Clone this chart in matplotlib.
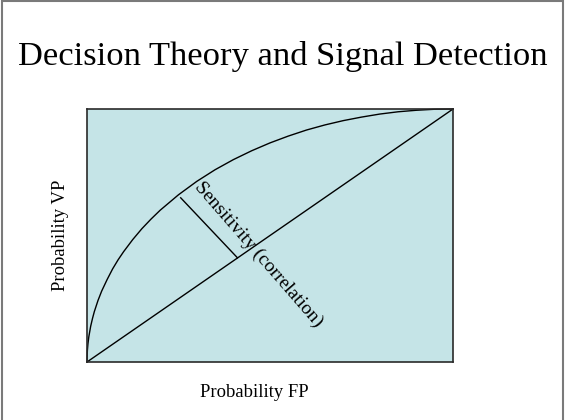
import matplotlib
matplotlib.use('Agg')
import matplotlib.pyplot as plt
from matplotlib.patches import Rectangle

# probability of false positives vs. probability of true positives
roc_fp = [0.0, 0.001, 0.0025, 0.005, 0.01, 0.015, 0.02, 0.03, 0.04, 0.055, 0.07, 0.085, 0.1,
          0.125, 0.15, 0.175, 0.2, 0.25, 0.3, 0.35, 0.4, 0.45, 0.5, 0.55, 0.6, 0.65, 0.7,
          0.75, 0.8, 0.85, 0.9, 0.95, 1.0]
roc_vp = [0.0, 0.045, 0.071, 0.10, 0.141, 0.172, 0.199, 0.243, 0.28, 0.326, 0.368, 0.404, 0.436,
          0.484, 0.527, 0.565, 0.60, 0.661, 0.714, 0.760, 0.80, 0.835, 0.866, 0.893, 0.917, 0.937, 0.954,
          0.968, 0.98, 0.989, 0.995, 0.999, 1.0]

# chance line
chance_fp = [0.0, 1.0]
chance_vp = [0.0, 1.0]

# sensitivity marker (curve -> diagonal)
sens_fp = [0.256, 0.411]
sens_vp = [0.649, 0.412]

title = 'Decision Theory and Signal Detection'
xlabel = 'Probability FP'
ylabel = 'Probability VP'
note = 'Sensitivity (correlation)'

W, H = 565, 420
fig = plt.figure(figsize=(W / 100, H / 100), dpi=100)
fig.patch.set_facecolor('white')
serif = ['Liberation Serif', 'DejaVu Serif']

# slide border
fig.patches.append(Rectangle((2 / W, -0.05), 561 / W, 1.05 - 1 / H, transform=fig.transFigure,
                             fill=False, edgecolor='#7a7a7a', linewidth=1.5))

ax = fig.add_axes([87 / W, (H - 362) / H, 366 / W, 253 / H])
ax.set_facecolor('#c5e4e7')
ax.set_xlim(0, 1)
ax.set_ylim(0, 1)
ax.set_xticks([])
ax.set_yticks([])
for sp in ax.spines.values():
    sp.set_color('#2a2a2a')
    sp.set_linewidth(1.2)

ax.plot(roc_fp, roc_vp, color='black', linewidth=1.0, clip_on=False)
ax.plot(chance_fp, chance_vp, color='black', linewidth=1.0, clip_on=False)
ax.plot(sens_fp, sens_vp, color='black', linewidth=1.0)

ax.text(0.468, 0.425, note, rotation=-49, rotation_mode='anchor', ha='center', va='center',
        fontsize=14, family=serif)

fig.text(283 / W, (H - 65) / H, title, ha='center', va='baseline', fontsize=24.8, family=serif)
fig.text(254 / W, (H - 397) / H, xlabel, ha='center', va='baseline', fontsize=13.4, family=serif)
fig.text(65 / W, (H - 235.5) / H, ylabel, ha='center', va='baseline', rotation=90,
         rotation_mode='anchor', fontsize=13.4, family=serif)

fig.savefig('out.png', dpi=100)
